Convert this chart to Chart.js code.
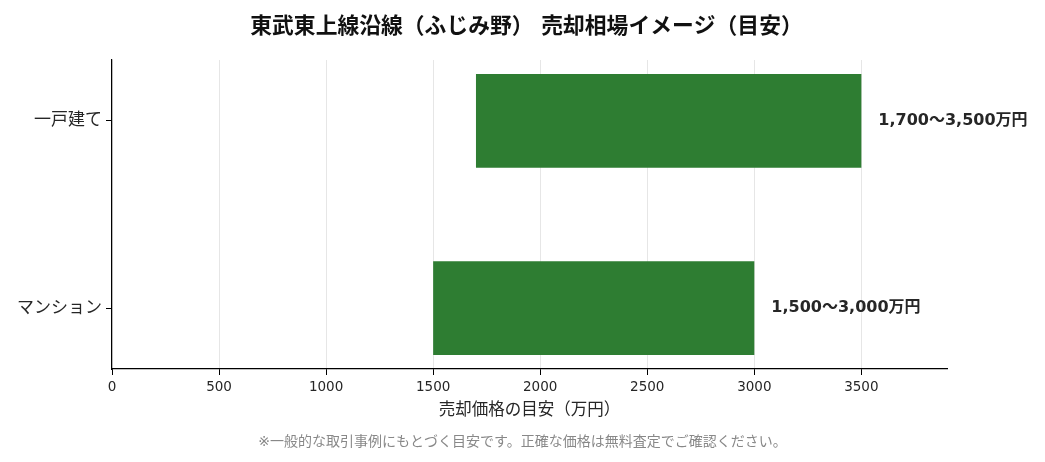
<!DOCTYPE html>
<html>
<head>
<meta charset="utf-8">
<script src="https://cdn.jsdelivr.net/npm/chart.js@4"></script>
<style>
  body { margin: 0; background: #fff; }
  #wrap { width: 1045px; height: 462px; }
</style>
</head>
<body>
<div id="wrap"><canvas id="myChart"></canvas></div>
<script>
const types = ["一戸建て", "マンション"];
const lows = [1700, 1500];
const highs = [3500, 3000];
const rangeLabels = ["1,700〜3,500万円", "1,500〜3,000万円"];
const xTicks = [0, 500, 1000, 1500, 2000, 2500, 3000, 3500];

const titleText = "東武東上線沿線（ふじみ野） 売却相場イメージ（目安）";
const noteText = "※一般的な取引事例にもとづく目安です。正確な価格は無料査定でご確認ください。";

const FONT = "'DejaVu Sans', 'Noto Sans CJK JP', sans-serif";
// empty space above the first and below the last category, in categories
const CAT_MARGIN = 0.325;

// title, footnote and the text at the end of each bar
const extraText = {
  id: "extraText",
  afterDraw(chart) {
    const { ctx, width } = chart;
    const meta = chart.getDatasetMeta(0);
    ctx.save();
    ctx.textBaseline = "middle";

    ctx.font = "bold 16px " + FONT;
    ctx.fillStyle = "#262626";
    ctx.textAlign = "left";
    meta.data.forEach((bar, i) => {
      ctx.fillText(rangeLabels[i], bar.x + 17, bar.y);
    });

    ctx.textAlign = "center";
    ctx.font = "bold 21.8px " + FONT;
    ctx.fillStyle = "#111";
    ctx.fillText(titleText, width / 2 + 4, 27);

    ctx.font = "14px " + FONT;
    ctx.fillStyle = "#888";
    ctx.fillText(noteText, width / 2, 442);
    ctx.restore();
  },
};

const ctx = document.getElementById("myChart");

new Chart(ctx, {
  type: "bar",
  data: {
    labels: types,
    datasets: [
      {
        data: types.map((t, i) => [lows[i], highs[i]]),
        backgroundColor: "#2e7d32",
        borderWidth: 0,
        categoryPercentage: 0.5,
        barPercentage: 1,
      },
    ],
  },
  plugins: [extraText],
  options: {
    indexAxis: "y",
    responsive: true,
    maintainAspectRatio: false,
    animation: false,
    layout: { padding: { left: 0, right: 98, top: 60, bottom: 41 } },
    scales: {
      x: {
        min: 0,
        max: 3900,
        afterBuildTicks: (axis) => {
          axis.ticks = xTicks.map((v) => ({ value: v }));
        },
        ticks: {
          color: "#262626",
          font: { family: FONT, size: 13.5 },
          padding: 4,
          callback: (v) => String(v),
        },
        grid: {
          color: "#e6e6e6",
          tickColor: "#000",
          tickLength: 6,
        },
        border: { color: "#000", width: 1.2 },
        title: {
          display: true,
          text: "売却価格の目安（万円）",
          color: "#262626",
          font: { family: FONT, size: 16.5 },
          padding: { top: 2, bottom: 0 },
        },
      },
      y: {
        offset: false,
        afterBuildTicks: (axis) => {
          axis._startValue = axis.min - CAT_MARGIN;
          axis._valueRange = axis.max - axis.min + 2 * CAT_MARGIN;
        },
        afterFit: (axis) => {
          axis.width = 112;
        },
        ticks: {
          color: "#262626",
          font: { family: FONT, size: 17 },
          padding: 4,
        },
        grid: {
          offset: false,
          drawOnChartArea: false,
          tickColor: "#000",
          tickLength: 6,
        },
        border: { color: "#000", width: 1.2 },
      },
    },
    plugins: {
      legend: { display: false },
      tooltip: { enabled: false },
      title: { display: false },
    },
  },
});
</script>
</body>
</html>
